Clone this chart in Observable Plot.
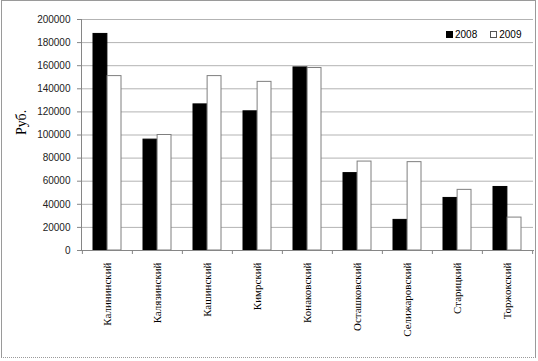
<!DOCTYPE html>
<html><head><meta charset="utf-8">
<script src="https://cdn.jsdelivr.net/npm/d3@7"></script>
<script src="https://cdn.jsdelivr.net/npm/@observablehq/plot@0.6"></script>
<style>
body{margin:0;background:#fff;}
#wrap{position:relative;width:538px;height:361px;overflow:hidden;}
#border{position:absolute;left:1px;top:0px;width:533px;height:356px;border:1px solid #9a9a9a;border-bottom:1px dotted #9a9a9a;pointer-events:none;}
#legend{position:absolute;left:446px;top:29px;font:10px "Liberation Sans",Arial,sans-serif;color:#000;display:flex;align-items:center;white-space:nowrap;}
.sw{display:inline-block;width:5px;height:5px;margin-right:2px;}
</style></head>
<body>
<div id="wrap"><div id="chart"></div><div id="legend"></div><div id="border"></div></div>
<script>
const categories = ["Калининский","Калязинский","Кашинский","Кимрский","Конаковский","Осташковский","Селижаровский","Старицкий","Торжокский"];
const values2008 = [187500, 96000, 126500, 120500, 158500, 67000, 26500, 45500, 55000];
const values2009 = [151000, 100000, 151000, 146000, 158000, 77000, 76500, 52500, 28500];
const years = ["2008", "2009"];
const yTicks = [0, 20000, 40000, 60000, 80000, 100000, 120000, 140000, 160000, 180000, 200000];
const yLabel = "Руб.";

const rows08 = categories.map((c, i) => ({category: c, value: values2008[i]}));
const rows09 = categories.map((c, i) => ({category: c, value: values2009[i]}));
const half = (538 - 81 - 5) / categories.length / 2;

const chart = Plot.plot({
  width: 538, height: 361,
  marginLeft: 81, marginRight: 5, marginTop: 19, marginBottom: 111,
  style: {fontFamily: "'Liberation Sans', Arial, sans-serif", fontSize: "10px", color: "#000", background: "transparent"},
  x: {domain: categories, padding: 0, axis: null},
  y: {domain: [0, 200000], axis: null},
  marks: [
    Plot.gridY(yTicks, {stroke: "#b3b3b3", strokeOpacity: 1}),
    Plot.barY(rows08, {x: "category", y: "value", fill: "#000", stroke: "#000", insetLeft: 11, insetRight: half}),
    Plot.barY(rows09, {x: "category", y: "value", fill: "#fff", stroke: "#7f7f7f", insetLeft: half, insetRight: 11}),
    Plot.frame({anchor: "left", stroke: "#868686"}),
    Plot.frame({anchor: "bottom", stroke: "#868686"}),
    Plot.axisY(yTicks, {label: null, tickSize: 4, tickPadding: 7, tickFormat: d3.format("d"), stroke: "#868686", fill: "#222", fontSize: 10}),
    Plot.axisX(categories, {label: null, text: null, tickSize: 4, dx: -half, stroke: "#868686"}),
    Plot.axisX(categories.slice(-1), {label: null, text: null, tickSize: 4, dx: half, stroke: "#868686"}),
    Plot.axisX(categories, {label: null, tickSize: 0, tickRotate: -90, tickPadding: 12, fontFamily: "'Liberation Serif', 'Times New Roman', serif", fontSize: 11, fill: "#000"}),
    Plot.text([yLabel], {frameAnchor: "left", dx: -60, rotate: -90, fontFamily: "'Liberation Serif', 'Times New Roman', serif", fontSize: 14, fill: "#000"})
  ]
});
document.getElementById("chart").appendChild(chart);

const legend = document.getElementById("legend");
years.forEach((yr, i) => {
  const item = document.createElement("span");
  item.style.display = "inline-flex";
  item.style.alignItems = "center";
  item.style.marginRight = i === 0 ? "13px" : "0";
  const sw = document.createElement("span");
  sw.className = "sw";
  sw.style.background = i === 0 ? "#000" : "#fff";
  sw.style.border = i === 0 ? "1px solid #000" : "1px solid #555";
  item.appendChild(sw);
  item.appendChild(document.createTextNode(yr));
  legend.appendChild(item);
});
</script>
</body></html>
